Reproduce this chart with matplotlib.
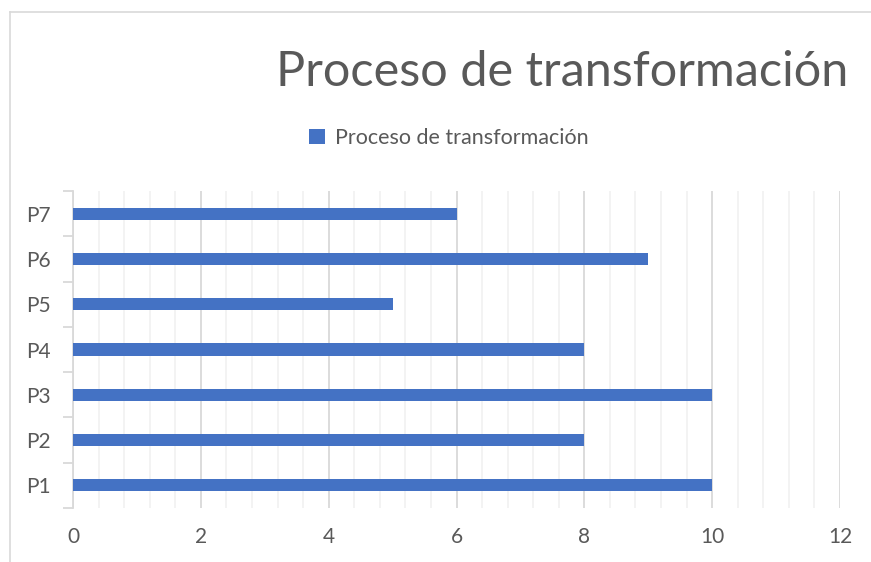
import numpy as np
import matplotlib
matplotlib.use("Agg")
import matplotlib.pyplot as plt
from matplotlib.lines import Line2D
from matplotlib.ticker import MultipleLocator, FixedLocator

# data
categories = ["P1", "P2", "P3", "P4", "P5", "P6", "P7"]
values = [10, 8, 10, 8, 5, 9, 6]
series_name = "Proceso de transformación"

bar_color = "#4472C4"
text_color = "#595959"

plt.rcParams['font.family'] = ['Lato', 'DejaVu Sans']

fig = plt.figure(figsize=(8.71, 5.62), dpi=100)
ax = fig.add_axes([73 / 871, 1 - 508 / 562, (840 - 73) / 871, (508 - 191) / 562])

y = np.arange(len(categories))
ax.barh(y, values, height=0.27, color=bar_color, label=series_name, zorder=3)

ax.set_xlim(0, 12)
ax.set_ylim(-0.5, len(categories) - 0.5)

# x axis: majors every 2, light minors every 0.4
ax.xaxis.set_major_locator(MultipleLocator(2))
ax.xaxis.set_minor_locator(MultipleLocator(0.4))
ax.grid(which="major", axis="x", color="#d9d9d9", linewidth=1.3, zorder=1)
ax.grid(which="minor", axis="x", color="#f0f0f0", linewidth=1.1, zorder=0)
ax.tick_params(axis="x", which="both", length=0, pad=14, labelsize=15, labelcolor=text_color)

# y axis: labels at centers, tick marks at category boundaries
ax.set_yticks(y)
ax.set_yticklabels(categories)
ax.yaxis.set_minor_locator(FixedLocator(np.arange(-0.5, len(categories), 1.0)))
ax.tick_params(axis="y", which="major", length=0, pad=16, labelsize=15, labelcolor=text_color)
ax.tick_params(axis="y", which="minor", length=7, width=1.3, color="#d9d9d9")

for side in ["top", "right", "bottom"]:
    ax.spines[side].set_visible(False)
ax.spines["left"].set_color("#d9d9d9")
ax.spines["left"].set_linewidth(1.3)

# title and legend
fig.text(562 / 871, 1 - 72 / 562, series_name, ha="center", va="center",
         fontsize=35, fontweight="normal", color=text_color)
ax.legend(loc="center", bbox_to_anchor=(449 / 871, 1 - 138 / 562),
          bbox_transform=fig.transFigure, frameon=False, fontsize=15.5,
          handlelength=0.75, handleheight=0.75, handletextpad=0.45,
          labelcolor=text_color)

# chart frame (only top and left edges visible)
fig.add_artist(Line2D([10 / 871, 1], [1 - 12 / 562, 1 - 12 / 562], transform=fig.transFigure,
                      color="#d9d9d9", linewidth=1.2))
fig.add_artist(Line2D([10 / 871, 10 / 871], [0, 1 - 12 / 562], transform=fig.transFigure,
                      color="#d9d9d9", linewidth=1.2))

fig.savefig("out.png", dpi=100, facecolor="white")
